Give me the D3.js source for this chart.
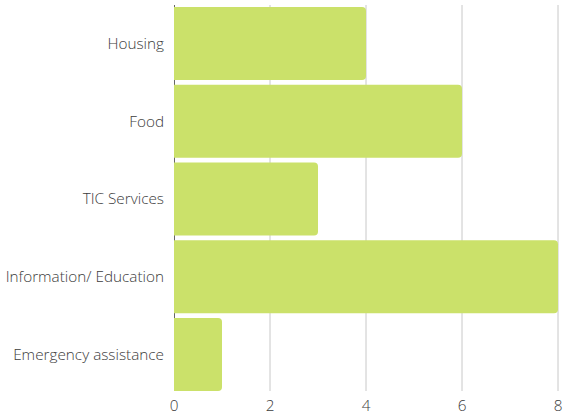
<!DOCTYPE html>
<html>
<head>
<meta charset="utf-8">
<script src="https://cdn.jsdelivr.net/npm/d3@7"></script>
<style>
  body { margin: 0; background: #fff; }
  text { font-family: "Open Sans", sans-serif; font-weight: 300; fill: #3c3c3c; }
</style>
</head>
<body>
<svg id="chart" width="563" height="416"></svg>
<script>
// data
var categories = ["Housing", "Food", "TIC Services", "Information/ Education", "Emergency assistance"];
var values = [4, 6, 3, 8, 1];
var ticks = [0, 2, 4, 6, 8];

var svg = d3.select("#chart");
var plotLeft = 174, plotRight = 558, plotTop = 4.6, plotBottom = 393.4;

var x = d3.scaleLinear().domain([0, 8]).range([plotLeft, plotRight]);
var y = d3.scaleBand().domain(categories).range([plotTop, plotBottom])
  .paddingInner(0.06).paddingOuter(0.03);

// grid lines
svg.append("g").selectAll("line")
  .data(ticks.slice(1))
  .enter().append("line")
  .attr("x1", d => x(d)).attr("x2", d => x(d))
  .attr("y1", 5).attr("y2", 391)
  .attr("stroke", "#c8c8c8").attr("stroke-width", 1);

// y axis line (mostly hidden under the bars)
svg.append("line")
  .attr("x1", plotLeft + 0.5).attr("x2", plotLeft + 0.5)
  .attr("y1", 5).attr("y2", 391)
  .attr("stroke", "#666");

// bars, rounded on the right end only
var r = 4;
svg.append("g").selectAll("path")
  .data(categories)
  .enter().append("path")
  .attr("fill", "#cbe16a")
  .attr("d", function(d, i) {
    var x0 = x(0), x1 = x(values[i]), y0 = y(d), h = y.bandwidth();
    return "M" + x0 + "," + y0 +
      "H" + (x1 - r) + "Q" + x1 + "," + y0 + " " + x1 + "," + (y0 + r) +
      "V" + (y0 + h - r) + "Q" + x1 + "," + (y0 + h) + " " + (x1 - r) + "," + (y0 + h) +
      "H" + x0 + "Z";
  });

// category labels
svg.append("g").selectAll("text")
  .data(categories)
  .enter().append("text")
  .attr("x", plotLeft - 10)
  .attr("y", d => y(d) + y.bandwidth() / 2)
  .attr("dy", "0.35em")
  .attr("text-anchor", "end")
  .style("font-size", "15.3px")
  .text(d => d);

// x tick labels
svg.append("g").selectAll("text")
  .data(ticks)
  .enter().append("text")
  .attr("x", d => x(d))
  .attr("y", 411)
  .attr("text-anchor", "middle")
  .style("font-size", "15.3px")
  .text(d => d);
</script>
</body>
</html>
